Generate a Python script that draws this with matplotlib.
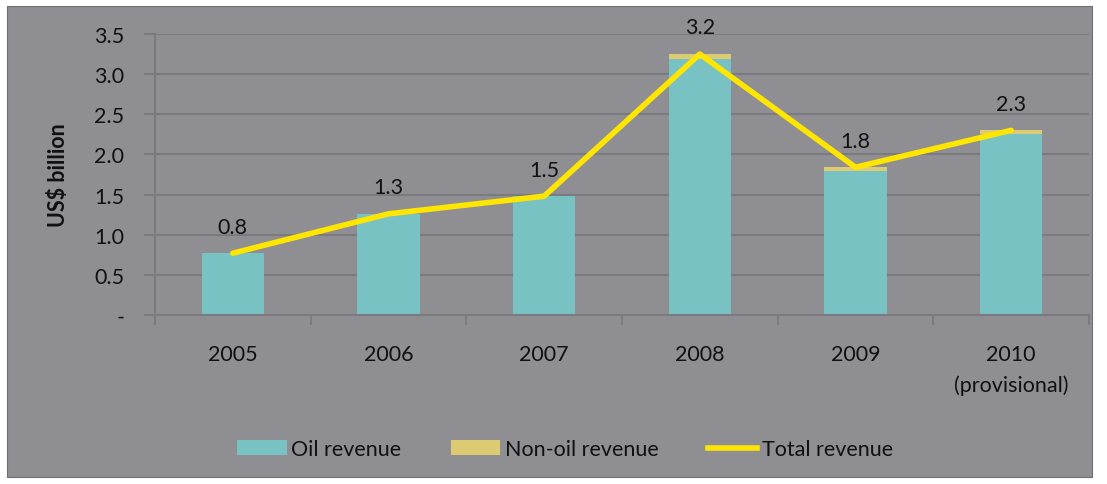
import matplotlib
matplotlib.use("Agg")
import matplotlib.pyplot as plt
from matplotlib.patches import Rectangle, Patch
from matplotlib.lines import Line2D
import numpy as np

years = ["2005", "2006", "2007", "2008", "2009", "2010\n(provisional)"]
oil_revenue = [0.77, 1.26, 1.48, 3.19, 1.79, 2.25]
non_oil_revenue = [0.00, 0.00, 0.00, 0.06, 0.05, 0.05]
total_revenue = [0.77, 1.26, 1.48, 3.25, 1.84, 2.30]
total_labels = ["0.8", "1.3", "1.5", "3.2", "1.8", "2.3"]
y_ticks = [0, 0.5, 1.0, 1.5, 2.0, 2.5, 3.0, 3.5]
y_tick_labels = ["-", "0.5", "1.0", "1.5", "2.0", "2.5", "3.0", "3.5"]

plt.rcParams['font.family'] = ['Lato', 'DejaVu Sans']

BG = "#8f8e93"
GRID = "#7b7a7e"
OIL = "#78c2c4"
NONOIL = "#dccb72"
LINE = "#ffe600"
TXT = "#111111"
FS = 15.5

fig = plt.figure(figsize=(11.07, 4.85), dpi=100, facecolor="white")
fig.patches.append(Rectangle((7/1107, 7/485), (1092-7)/1107, (478-7)/485,
                             transform=fig.transFigure, facecolor=BG,
                             edgecolor="#6f6e72", lw=0.8, zorder=-10))

ax = fig.add_axes([155/1107, 169/485, (1089-155)/1107, (316-35)/485])
ax.set_facecolor("none")
x = np.arange(len(years))
ax.bar(x, oil_revenue, width=0.4, color=OIL, zorder=2, label="Oil revenue")
ax.bar(x, non_oil_revenue, width=0.4, bottom=oil_revenue, color=NONOIL, zorder=2,
       label="Non-oil revenue")
ax.plot(x, total_revenue, color=LINE, lw=4, zorder=3, solid_capstyle="round",
        label="Total revenue")
for xi, v, lab in zip(x, total_revenue, total_labels):
    ax.annotate(lab, (xi, v), xytext=(0, 12), textcoords="offset points",
                ha="center", va="bottom", fontsize=FS, color=TXT)

ax.set_xlim(-0.5, len(years) - 0.5)
ax.set_ylim(0, 3.5)
ax.set_yticks(y_ticks)
ax.set_yticklabels(y_tick_labels, fontsize=FS, color=TXT)
ax.yaxis.grid(True, color=GRID, lw=1.5, zorder=0)
ax.set_axisbelow(True)
ax.tick_params(axis="y", length=8, color=GRID, width=1.5, pad=14)
ax.set_xticks(x)
ax.set_xticklabels(years, fontsize=FS, color=TXT, linespacing=1.6)
ax.tick_params(axis="x", length=0, pad=21)
ax.set_xticks(np.arange(-0.5, len(years)), minor=True)
ax.tick_params(axis="x", which="minor", length=7, color=GRID, width=1.5)
for s in ["top", "right"]:
    ax.spines[s].set_visible(False)
for s in ["left", "bottom"]:
    ax.spines[s].set_color(GRID)
    ax.spines[s].set_linewidth(1.5)
ax.set_ylabel("US$ billion", fontsize=FS, fontweight="bold", color=TXT, labelpad=18)

handles = [Patch(facecolor=OIL, label="Oil revenue"),
           Patch(facecolor=NONOIL, label="Non-oil revenue"),
           Line2D([0], [0], color=LINE, lw=4, label="Total revenue")]
fig.legend(handles=handles, loc="center", bbox_to_anchor=(565/1107, 1 - 450/485),
           ncol=3, frameon=False, fontsize=FS, handlelength=2.3, handleheight=0.65,
           handletextpad=0.2, columnspacing=2.3, labelcolor=TXT)

fig.savefig("out.png", dpi=100, facecolor="white")
